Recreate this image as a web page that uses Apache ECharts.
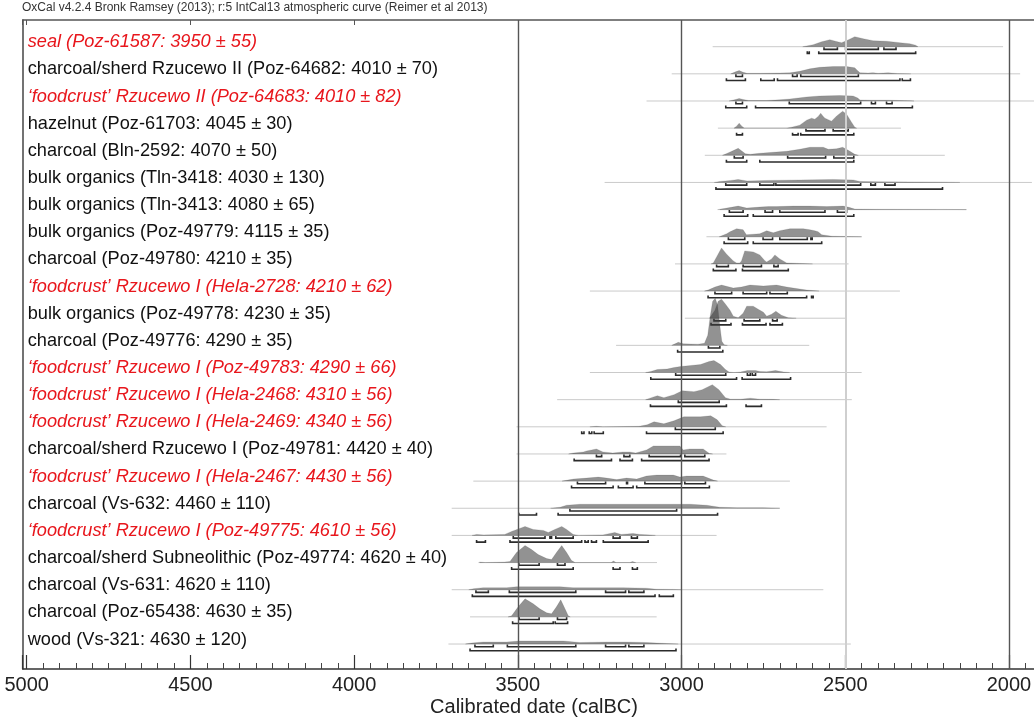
<!DOCTYPE html>
<html><head><meta charset="utf-8">
<script src="https://cdn.jsdelivr.net/npm/echarts@6/dist/echarts.min.js"></script>
<style>html,body{margin:0;padding:0;background:#fff}#c{width:1034px;height:719px}</style>
</head><body><div id="c"></div>
<script>
// ---------- data ----------
const headerText = 'OxCal v4.2.4 Bronk Ramsey (2013); r:5 IntCal13 atmospheric curve (Reimer et al 2013)';
const axisTitle = 'Calibrated date (calBC)';
const tickLabels = [5000, 4500, 4000, 3500, 3000, 2500, 2000];

const labels = [
  'seal (Poz-61587: 3950 ± 55)',
  'charcoal/sherd Rzucewo II (Poz-64682: 4010 ± 70)',
  '‘foodcrust’ Rzucewo II (Poz-64683: 4010 ± 82)',
  'hazelnut (Poz-61703: 4045 ± 30)',
  'charcoal (Bln-2592: 4070 ± 50)',
  'bulk organics (Tln-3418: 4030 ± 130)',
  'bulk organics (Tln-3413: 4080 ± 65)',
  'bulk organics (Poz-49779: 4115 ± 35)',
  'charcoal (Poz-49780: 4210 ± 35)',
  '‘foodcrust’ Rzucewo I (Hela-2728: 4210 ± 62)',
  'bulk organics (Poz-49778: 4230 ± 35)',
  'charcoal (Poz-49776: 4290 ± 35)',
  '‘foodcrust’ Rzucewo I (Poz-49783: 4290 ± 66)',
  '‘foodcrust’ Rzucewo I (Hela-2468: 4310 ± 56)',
  '‘foodcrust’ Rzucewo I (Hela-2469: 4340 ± 56)',
  'charcoal/sherd Rzucewo I (Poz-49781: 4420 ± 40)',
  '‘foodcrust’ Rzucewo I (Hela-2467: 4430 ± 56)',
  'charcoal (Vs-632: 4460 ± 110)',
  '‘foodcrust’ Rzucewo I (Poz-49775: 4610 ± 56)',
  'charcoal/sherd Subneolithic (Poz-49774: 4620 ± 40)',
  'charcoal (Vs-631: 4620 ± 110)',
  'charcoal (Poz-65438: 4630 ± 35)',
  'wood (Vs-321: 4630 ± 120)'
];
const isRed = [1,0,1,0,0,0,0,0,0,1,0,0,1,1,1,0,1,0,1,0,0,0,0];

// extent of the thin line under each distribution (calBC)
const spans = [
  [2905,2018],[3030,1966],[3107,1900],[2889,2330],[2929,2196],[3235,1930],
  [2883,2130],[2924,2450],[3020,2490],[3280,2333],[2990,2500],[3200,2610],
  [3280,2450],[3380,2480],[3504,2557],[3504,2863],[3636,2669],[3702,2700],
  [3702,2893],[3616,3075],[3702,2567],[3646,3076],[3712,2483]
];

// calibrated probability: [calBC, relative probability]
const dists = [
  [[2630,0],[2598,2],[2572,5],[2547,7],[2530,5.5],[2511,4],[2490,7],[2471,10],[2445,8],[2415,6],[2374,5.5],[2333,4],[2303,3],[2285,1.5],[2278,0]],
  [[2850,0],[2835,2],[2824,3.3],[2812,1.5],[2800,0.5],[2760,0.5],[2700,0.8],[2669,1],[2639,2.5],[2608,5],[2578,6.5],[2537,7.3],[2496,7.3],[2471,6],[2462,3],[2455,1],[2430,0.8],[2415,1.2],[2400,0.5],[2369,1],[2340,0.3],[2300,0]],
  [[2855,0],[2835,1.5],[2824,2.5],[2812,1.5],[2795,0.5],[2740,0.5],[2700,1.2],[2669,2],[2618,4],[2578,5],[2517,5.5],[2476,5],[2462,3],[2455,1],[2420,0.8],[2370,0.8],[2300,0.2],[2290,0]],
  [[2840,0],[2832,2],[2824,5],[2816,2],[2808,0],[2680,0],[2664,1],[2639,3],[2618,8],[2603,10],[2593,9],[2582,12],[2575,15],[2568,12],[2562,10],[2542,7],[2527,12],[2508,17],[2496,14],[2481,6],[2471,1],[2465,0]],
  [[2875,0],[2860,2],[2840,5],[2827,7],[2815,4],[2805,1.5],[2790,1],[2761,2],[2720,3],[2679,4],[2639,6],[2608,8],[2567,8],[2552,6],[2527,6.5],[2508,8],[2491,5],[2471,1],[2460,0]],
  [[2900,0],[2883,1],[2850,2],[2827,3],[2800,1.5],[2740,2],[2639,2.5],[2537,3],[2476,2.5],[2455,1],[2400,0.6],[2300,0.5],[2210,0.3],[2150,0]],
  [[2890,0],[2870,1],[2853,2],[2827,3.5],[2801,1.5],[2761,2.5],[2735,3],[2710,3],[2659,3.5],[2608,3.5],[2557,3],[2506,3.5],[2486,2],[2471,0.5],[2400,0.3],[2200,0.2],[2130,0]],
  [[2885,0],[2862,3],[2852,5],[2832,8],[2812,7],[2802,2],[2761,3],[2740,6],[2720,4],[2700,6],[2669,8],[2628,8],[2608,7],[2593,6],[2583,5],[2572,2],[2540,0.5],[2450,0]],
  [[2910,0],[2903,1],[2888,10],[2878,16],[2863,10],[2842,3],[2832,1],[2822,1],[2817,3],[2807,13],[2781,12],[2761,9],[2745,3],[2740,2],[2725,5],[2715,9],[2700,5],[2679,1],[2640,0.5],[2600,0]],
  [[2930,0],[2919,1],[2898,4],[2878,6],[2842,3],[2817,4],[2791,6],[2750,5],[2710,6],[2679,4],[2639,2],[2618,1],[2580,0]],
  [[2915,0],[2898,8],[2888,17],[2878,19],[2868,15],[2852,8],[2842,2],[2827,0.5],[2812,5],[2801,12],[2781,12],[2766,9],[2750,6],[2740,2],[2725,4],[2712,7],[2695,3],[2674,0.5],[2650,0]],
  [[3030,0],[3010,3],[2995,1.5],[2950,1.2],[2930,2],[2920,10],[2912,30],[2905,44],[2897,47],[2890,40],[2884,22],[2877,4],[2870,0.5],[2860,0]],
  [[3110,0],[3094,1],[3074,3],[3044,3.5],[3023,5],[3003,6],[2972,7],[2942,8],[2916,11],[2901,12],[2881,8],[2866,3],[2855,0.5],[2840,0],[2820,0.5],[2799,2],[2774,2],[2760,1],[2740,0.8],[2713,2],[2688,0.5],[2670,0]],
  [[3110,0],[3092,2],[3074,4],[3054,2],[3023,5],[2998,9],[2962,8],[2937,10],[2906,15],[2886,10],[2866,2],[2850,0.5],[2820,0.5],[2790,1.5],[2760,0.5],[2720,0.3],[2700,0]],
  [[3280,0],[3260,0.5],[3240,0],[3130,0.5],[3105,2],[3084,5],[3054,3],[3023,6],[2993,10],[2942,10],[2911,11],[2891,7],[2876,1],[2865,0]],
  [[3345,0],[3330,1],[3300,2],[3290,3],[3260,5],[3240,2],[3210,1],[3180,2],[3158,2],[3140,1],[3107,4],[3086,8],[3025,8],[3005,8],[2995,4],[2975,5],[2934,5],[2915,0.5],[2905,0]],
  [[3365,0],[3330,2],[3290,3],[3254,4],[3229,3],[3198,1.5],[3168,3],[3137,2],[3107,5],[3076,6],[3025,6],[3005,4],[2985,5],[2934,5],[2903,1],[2890,0]],
  [[3400,0],[3371,1],[3351,3],[3310,4],[3229,4],[3127,4],[3025,4],[2974,4],[2923,3],[2883,1],[2830,0.5],[2750,0.5],[2700,0]],
  [[3640,0],[3626,1],[3605,0.5],[3540,1],[3519,4],[3478,9],[3453,6],[3422,5],[3407,3],[3387,6],[3366,9],[3351,6],[3331,1],[3315,0],[3240,0.5],[3204,3],[3184,1],[3148,2],[3127,1],[3097,0.5],[3080,0]],
  [[3620,0],[3616,0.5],[3600,0],[3540,0.5],[3524,1],[3504,10],[3478,17],[3458,13],[3438,8],[3412,4],[3397,3],[3382,10],[3366,17],[3351,10],[3336,2],[3325,0],[3215,0],[3208,1.5],[3200,0],[3158,0],[3150,1],[3140,0]],
  [[3650,0],[3636,1],[3606,2],[3534,2],[3504,3],[3433,3],[3371,3],[3331,2],[3229,2],[3178,2],[3107,1.5],[3076,0.5],[3025,0.3],[3000,0]],
  [[3530,0],[3519,1],[3499,10],[3478,18],[3453,13],[3433,8],[3412,4],[3397,3],[3382,10],[3369,17],[3356,8],[3346,1],[3340,0]],
  [[3660,0],[3641,1],[3606,2],[3534,2],[3494,3],[3433,3],[3361,3],[3310,1.5],[3229,2],[3168,2],[3107,1.5],[3046,0.5],[3010,0]]
];

// 68.2% ranges [from, to] calBC
const ranges68 = [
  [[2565,2524],[2499,2399],[2382,2345]],
  [[2834,2814],[2661,2647],[2636,2460]],
  [[2834,2814],[2671,2453],[2420,2408],[2374,2357]],
  [[2620,2562],[2537,2491]],
  [[2839,2812],[2676,2560],[2535,2474]],
  [[2865,2801],[2761,2718],[2712,2453],[2422,2408],[2379,2348]],
  [[2854,2812],[2745,2722],[2700,2562],[2524,2496]],
  [[2857,2807],[2751,2722],[2700,2616],[2605,2601]],
  [[2893,2857],[2812,2756],[2718,2705]],
  [[2898,2847],[2812,2740],[2730,2677]],
  [[2901,2865],[2809,2761],[2722,2708]],
  [[2918,2883]],
  [[3018,2865],[2799,2790],[2784,2774]],
  [[3010,2885]],
  [[3019,2897]],
  [[3260,3244],[3176,3158],[3099,3003],[2990,2929]],
  [[3318,3232],[3168,3165],[3112,3000],[2990,2927]],
  [[3341,3015]],
  [[3514,3417],[3402,3397],[3384,3331],[3209,3188],[3153,3135]],
  [[3497,3435],[3379,3356]],
  [[3628,3590],[3526,3323],[3232,3171],[3161,3115]],
  [[3496,3435],[3379,3351]],
  [[3631,3575],[3532,3323],[3232,3171],[3161,3115]]
];
// 95.4% ranges [from, to] calBC
const ranges95 = [
  [[2616,2610],[2581,2285]],
  [[2863,2805],[2758,2717],[2707,2333],[2326,2301]],
  [[2865,2801],[2774,2295]],
  [[2832,2814],[2661,2644],[2636,2474]],
  [[2863,2801],[2761,2474]],
  [[2895,2203]],
  [[2870,2798],[2781,2474]],
  [[2870,2798],[2781,2572]],
  [[2903,2834],[2814,2674]],
  [[2919,2618],[2603,2598]],
  [[2910,2849],[2814,2742],[2730,2692]],
  [[3012,2874]],
  [[3094,2832],[2815,2667]],
  [[3095,2863],[2803,2756]],
  [[3305,3298],[3282,3274],[3267,3239],[3107,2873]],
  [[3328,3214],[3188,3150],[3122,2916]],
  [[3336,3209],[3193,3148],[3137,2915]],
  [[3497,3443],[3377,2890]],
  [[3626,3599],[3524,3305],[3295,3285],[3275,3260],[3239,3102]],
  [[3519,3331],[3209,3188],[3150,3135]],
  [[3639,3081],[3068,3025]],
  [[3516,3392],[3386,3348]],
  [[3646,3017]]
];
const darkLines = [3500, 3000, 2000];
const lightLines = [2500];

// ---------- chart ----------
const FONT = '"Liberation Sans", Arial, Helvetica, sans-serif';
const PROB_TO_ROW = 1 / 27.15;
const chart = echarts.init(document.getElementById('c'), null, {renderer: 'canvas'});

function renderRow(params, api) {
  const i = api.value(0);
  const ch = [];
  const s = spans[i];
  const a = api.coord([s[0], i]), b = api.coord([s[1], i]);
  ch.push({type: 'line', shape: {x1: a[0], y1: a[1], x2: b[0], y2: b[1]}, style: {stroke: '#cacaca', lineWidth: 1}});
  const pts = dists[i].map(p => api.coord([p[0], i - p[1] * PROB_TO_ROW]));
  ch.push({type: 'polygon', shape: {points: pts}, style: {fill: 'rgba(60,60,60,0.56)', stroke: 'rgba(60,60,60,0.3)', lineWidth: 0.5}});
  const bracket = (r, dy) => {
    const p = api.coord([r[0], i]), q = api.coord([r[1], i]);
    const y = p[1] + dy;
    ch.push({type: 'polyline', shape: {points: [[p[0], y - 2.2], [p[0], y], [q[0], y], [q[0], y - 2.2]]},
      style: {stroke: '#2b2b2b', lineWidth: 1.6, fill: null}});
  };
  ranges68[i].forEach(r => bracket(r, 2.7));
  ranges95[i].forEach(r => bracket(r, 6.7));
  ch.push({type: 'text', x: params.coordSys.x + 5, y: a[1] - 4.5,
    style: {text: labels[i], fill: isRed[i] ? '#e8161c' : '#111',
      font: (isRed[i] ? 'italic ' : '') + '18.2px ' + FONT, align: 'left', verticalAlign: 'middle'}});
  return {type: 'group', children: ch};
}

const markData = darkLines.map(v => ({xAxis: v, lineStyle: {color: '#555', width: 1.4, type: 'solid'}}))
  .concat(lightLines.map(v => ({xAxis: v, lineStyle: {color: '#cfcfcf', width: 2, type: 'solid'}})));

const X_MIN = 1500, X_MAX = 5012.2;
const axisCommon = {type: 'value', min: X_MIN, max: X_MAX, inverse: true, splitLine: {show: false}};
const gridCommon = {left: 22.7, top: 20, bottom: 50, right: -138.7, show: false, containLabel: false, outerBoundsMode: 'none'};
const Y_MIN = -0.983, Y_MAX = 22.92;

chart.setOption({
  animation: false,
  backgroundColor: '#fff',
  title: [
    {text: headerText, left: 22, top: 2, padding: 0, textStyle: {fontFamily: FONT, fontSize: 12, fontWeight: 'normal', color: '#333'}},
    {text: axisTitle, left: 534, top: 697, padding: 0, textAlign: 'center', textStyle: {fontFamily: FONT, fontSize: 20, fontWeight: 'normal', color: '#222'}}
  ],
  grid: [Object.assign({}, gridCommon), Object.assign({}, gridCommon)],
  xAxis: [
    Object.assign({}, axisCommon, {gridIndex: 0, position: 'bottom', interval: 50,
      axisLine: {show: true, onZero: false, lineStyle: {color: '#333', width: 1.5}},
      axisTick: {show: true, inside: true, length: 6, lineStyle: {color: '#444', width: 1}},
      axisLabel: {show: true, margin: 6, fontFamily: FONT, fontSize: 20, color: '#222',
        formatter: v => tickLabels.indexOf(v) >= 0 ? String(v) : ''}}),
    Object.assign({}, axisCommon, {gridIndex: 0, position: 'top', interval: 500,
      axisLine: {show: true, onZero: false, lineStyle: {color: '#555', width: 1.5}},
      axisTick: {show: true, inside: true, length: 5, lineStyle: {color: '#555', width: 1}},
      axisLabel: {show: false}}),
    Object.assign({}, axisCommon, {gridIndex: 1, position: 'bottom', interval: 500,
      axisLine: {show: false, onZero: false},
      axisTick: {show: true, inside: true, length: 14, lineStyle: {color: '#333', width: 1.2}},
      axisLabel: {show: false}})
  ],
  yAxis: [
    {gridIndex: 0, type: 'value', min: Y_MIN, max: Y_MAX, inverse: true,
      axisLine: {show: true, onZero: false, lineStyle: {color: '#444', width: 1.5}},
      axisTick: {show: false}, axisLabel: {show: false}, splitLine: {show: false}},
    {gridIndex: 1, type: 'value', min: Y_MIN, max: Y_MAX, inverse: true,
      axisLine: {show: false, onZero: false}, axisTick: {show: false}, axisLabel: {show: false}, splitLine: {show: false}}
  ],
  series: [{
    type: 'custom', xAxisIndex: 0, yAxisIndex: 0,
    renderItem: renderRow,
    data: labels.map((_, i) => [i]),
    encode: {y: 0},
    clip: false,
    markLine: {symbol: 'none', silent: true, label: {show: false}, data: markData}
  }]
});
</script>
</body></html>
